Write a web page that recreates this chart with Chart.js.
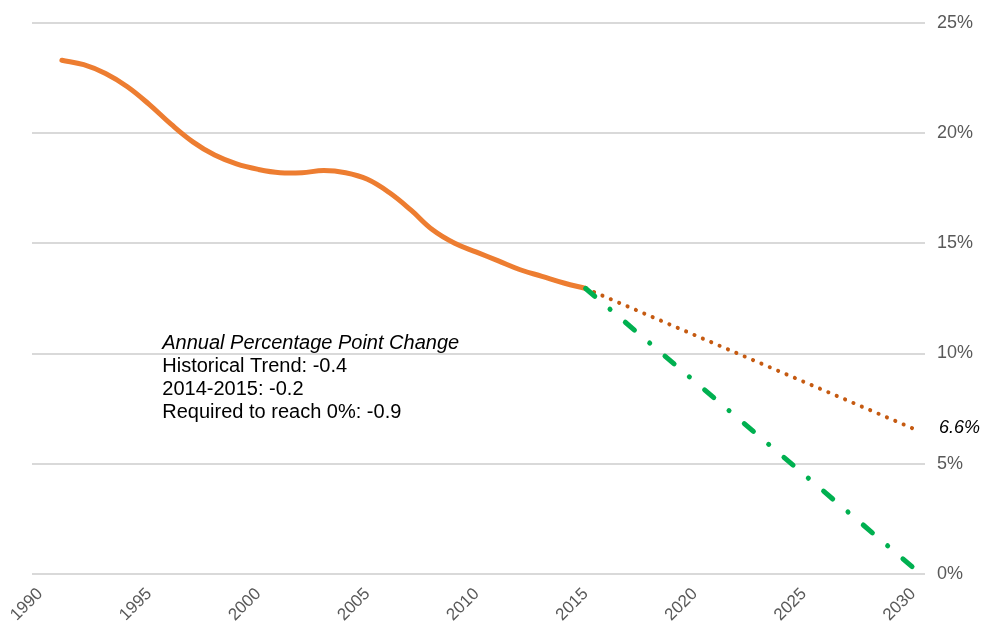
<!DOCTYPE html>
<html>
<head>
<meta charset="utf-8">
<script src="https://cdn.jsdelivr.net/npm/chart.js@4"></script>
<style>
  html, body { margin: 0; padding: 0; background: #fff; }
</style>
</head>
<body>
<canvas id="grafica" width="982" height="626"></canvas>
<script>
// historical series, one value per year
const years = [1991, 1992, 1993, 1994, 1995, 1996, 1997, 1998, 1999, 2000, 2001, 2002, 2003,
  2004, 2005, 2006, 2007, 2008, 2009, 2010, 2011, 2012, 2013, 2014, 2015];
const historical = [23.3, 23.1, 22.7, 22.1, 21.3, 20.4, 19.6, 19.0, 18.6, 18.35, 18.2, 18.2, 18.3,
  18.2, 17.9, 17.3, 16.5, 15.6, 15.0, 14.6, 14.2, 13.8, 13.5, 13.2, 12.95];

// projections from 2015 to 2030
const projYears = [2015, 2030];
const trendProjection = [12.95, 6.6];
const requiredProjection = [12.95, 0.3];

const xTicks = [1990, 1995, 2000, 2005, 2010, 2015, 2020, 2025, 2030];
const yTicks = [0, 5, 10, 15, 20, 25];

const noteLines = [
  { text: 'Annual Percentage Point Change', italic: true },
  { text: 'Historical Trend: -0.4', italic: false },
  { text: '2014-2015: -0.2', italic: false },
  { text: 'Required to reach 0%: -0.9', italic: false }
];
const endLabel = '6.6%';

const toPoints = (xs, ys) => xs.map((x, i) => ({ x: x, y: ys[i] }));

const textPlugin = {
  id: 'notas',
  afterDraw(chart) {
    const c = chart.ctx;
    const sx = chart.scales.x, sy = chart.scales.y;
    c.save();
    c.fillStyle = '#000';
    c.textBaseline = 'middle';
    c.textAlign = 'left';
    let x = sx.getPixelForValue(1995.6);
    let y = sy.getPixelForValue(10.45);
    noteLines.forEach((l, i) => {
      c.font = (l.italic ? 'italic ' : '') + '20px "Liberation Sans", Arial, sans-serif';
      c.fillText(l.text, x, y + i * 23);
    });
    c.font = 'italic 18px "Liberation Sans", Arial, sans-serif';
    c.fillText(endLabel, chart.chartArea.right + 14, sy.getPixelForValue(trendProjection[1]));
    c.restore();
  }
};

document.addEventListener('DOMContentLoaded', function () {
  const ctx = document.getElementById('grafica');
  new Chart(ctx, {
    type: 'line',
    data: {
      datasets: [
        {
          label: 'Historical',
          data: toPoints(years, historical),
          borderColor: '#ED7D31',
          borderWidth: 5,
          tension: 0.4,
          pointRadius: 0,
          borderCapStyle: 'round',
          order: 2
        },
        {
          label: 'Trend',
          data: toPoints(projYears, trendProjection),
          borderColor: '#C55A11',
          borderWidth: 4,
          borderDash: [0.1, 9],
          borderCapStyle: 'round',
          pointRadius: 0,
          order: 1
        },
        {
          label: 'Required',
          data: toPoints(projYears, requiredProjection),
          borderColor: '#00B050',
          borderWidth: 5,
          borderDash: [12, 20, 0.1, 20],
          borderCapStyle: 'round',
          pointRadius: 0,
          order: 0
        }
      ]
    },
    options: {
      responsive: false,
      animation: false,
      layout: { padding: { top: 19, left: 32, right: 0, bottom: 0 } },
      scales: {
        x: {
          type: 'linear',
          min: 1989.63,
          max: 2030.55,
          afterBuildTicks: function (scale) {
            scale.ticks = xTicks.map(v => ({ value: v }));
          },
          afterFit: function (scale) { scale.height = 52; },
          grid: { display: false },
          border: { display: false },
          ticks: {
            minRotation: 45,
            maxRotation: 45,
            autoSkip: false,
            padding: 2,
            color: '#595959',
            font: { size: 17, family: '"Liberation Sans", Arial, sans-serif' },
            callback: v => String(v)
          }
        },
        y: {
          position: 'right',
          min: 0,
          max: 25,
          afterBuildTicks: function (scale) {
            scale.ticks = yTicks.map(v => ({ value: v }));
          },
          afterFit: function (scale) { scale.width = 57; },
          grid: { color: '#d9d9d9', lineWidth: 2, drawTicks: false },
          border: { display: false },
          ticks: {
            padding: 12,
            color: '#595959',
            font: { size: 18, family: '"Liberation Sans", Arial, sans-serif' },
            callback: v => v + '%'
          }
        }
      },
      plugins: {
        legend: { display: false },
        tooltip: { enabled: false }
      }
    },
    plugins: [textPlugin]
  });
});
</script>
</body>
</html>
